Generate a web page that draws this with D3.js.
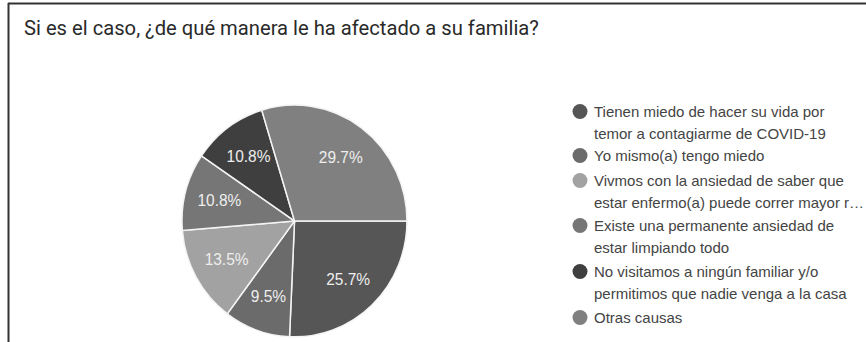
<!DOCTYPE html>
<html>
<head>
<meta charset="utf-8">
<script src="https://cdn.jsdelivr.net/npm/d3@7"></script>
<style>
  html, body { margin: 0; padding: 0; background: #fff; }
  svg { display: block; }
</style>
</head>
<body>
<svg id="chart" width="866" height="342"></svg>
<script>
// Survey answers, in legend order
const categories = [
  "Tienen miedo de hacer su vida por temor a contagiarme de COVID-19",
  "Yo mismo(a) tengo miedo",
  "Vivmos con la ansiedad de saber que estar enfermo(a) puede correr mayor riesgo",
  "Existe una permanente ansiedad de estar limpiando todo",
  "No visitamos a ningún familiar y/o permitimos que nadie venga a la casa",
  "Otras causas"
];
// Legend text as wrapped on screen
const legendLines = [
  ["Tienen miedo de hacer su vida por", "temor a contagiarme de COVID-19"],
  ["Yo mismo(a) tengo miedo"],
  ["Vivmos con la ansiedad de saber que", "estar enfermo(a) puede correr mayor r…"],
  ["Existe una permanente ansiedad de", "estar limpiando todo"],
  ["No visitamos a ningún familiar y/o", "permitimos que nadie venga a la casa"],
  ["Otras causas"]
];
const percents = [25.7, 9.5, 13.5, 10.8, 10.8, 29.7];
const sliceColors = ["#565656", "#6b6b6b", "#a2a2a2", "#767676", "#3f3f3f", "#808080"];
const title = "Si es el caso, ¿de qué manera le ha afectado a su familia?";

const svg = d3.select("#chart");

// Card frame: top and left edges
svg.append("line").attr("x1", 8).attr("x2", 866).attr("y1", 3.5).attr("y2", 3.5)
  .attr("stroke", "#333").attr("stroke-width", 2);
svg.append("line").attr("x1", 8.5).attr("x2", 8.5).attr("y1", 3).attr("y2", 342)
  .attr("stroke", "#333").attr("stroke-width", 2);

svg.append("text")
  .attr("x", 24).attr("y", 35)
  .attr("font-family", "Roboto, 'Liberation Sans', Arial, sans-serif")
  .attr("font-size", 20.2)
  .attr("fill", "#2a2a2a")
  .text(title);

// Pie
const cx = 294.5, cy = 221, r = 112.5;
const pie = d3.pie().sort(null).value(d => d)
  .startAngle(Math.PI / 2).endAngle(Math.PI / 2 + 2 * Math.PI);
const arc = d3.arc().innerRadius(0).outerRadius(r);
const labelArc = d3.arc().innerRadius(r * 0.69).outerRadius(r * 0.69);

const g = svg.append("g").attr("transform", `translate(${cx},${cy}) scale(1,1.03)`);
const arcs = pie(percents);

g.selectAll("path.slice").data(arcs).join("path")
  .attr("class", "slice")
  .attr("d", arc)
  .attr("fill", (d, i) => sliceColors[i])
  .attr("stroke", "#f4f4f4")
  .attr("stroke-width", 1.5);

g.selectAll("text.pct").data(arcs).join("text")
  .attr("class", "pct")
  .attr("transform", d => `translate(${labelArc.centroid(d)})`)
  .attr("text-anchor", "middle")
  .attr("dy", "0.36em")
  .attr("font-family", "'Liberation Sans', Arial, sans-serif")
  .attr("font-size", 15.5)
  .attr("fill", "#eeeeee")
  .text(d => d.data.toFixed(1) + "%");

// Legend
const legendY = [112, 156, 181, 226, 272, 318];
const lineH = 21.5;
const leg = svg.append("g");
legendLines.forEach((lines, i) => {
  leg.append("circle")
    .attr("cx", 580).attr("cy", legendY[i] - 0.5).attr("r", 7.5)
    .attr("fill", sliceColors[i]);
  lines.forEach((t, j) => {
    leg.append("text")
      .attr("x", 594).attr("y", legendY[i] + j * lineH)
      .attr("dy", "0.36em")
      .attr("font-family", "'Liberation Sans', Arial, sans-serif")
      .attr("font-size", 15)
      .attr("fill", "#444")
      .text(t);
  });
});
</script>
</body>
</html>
